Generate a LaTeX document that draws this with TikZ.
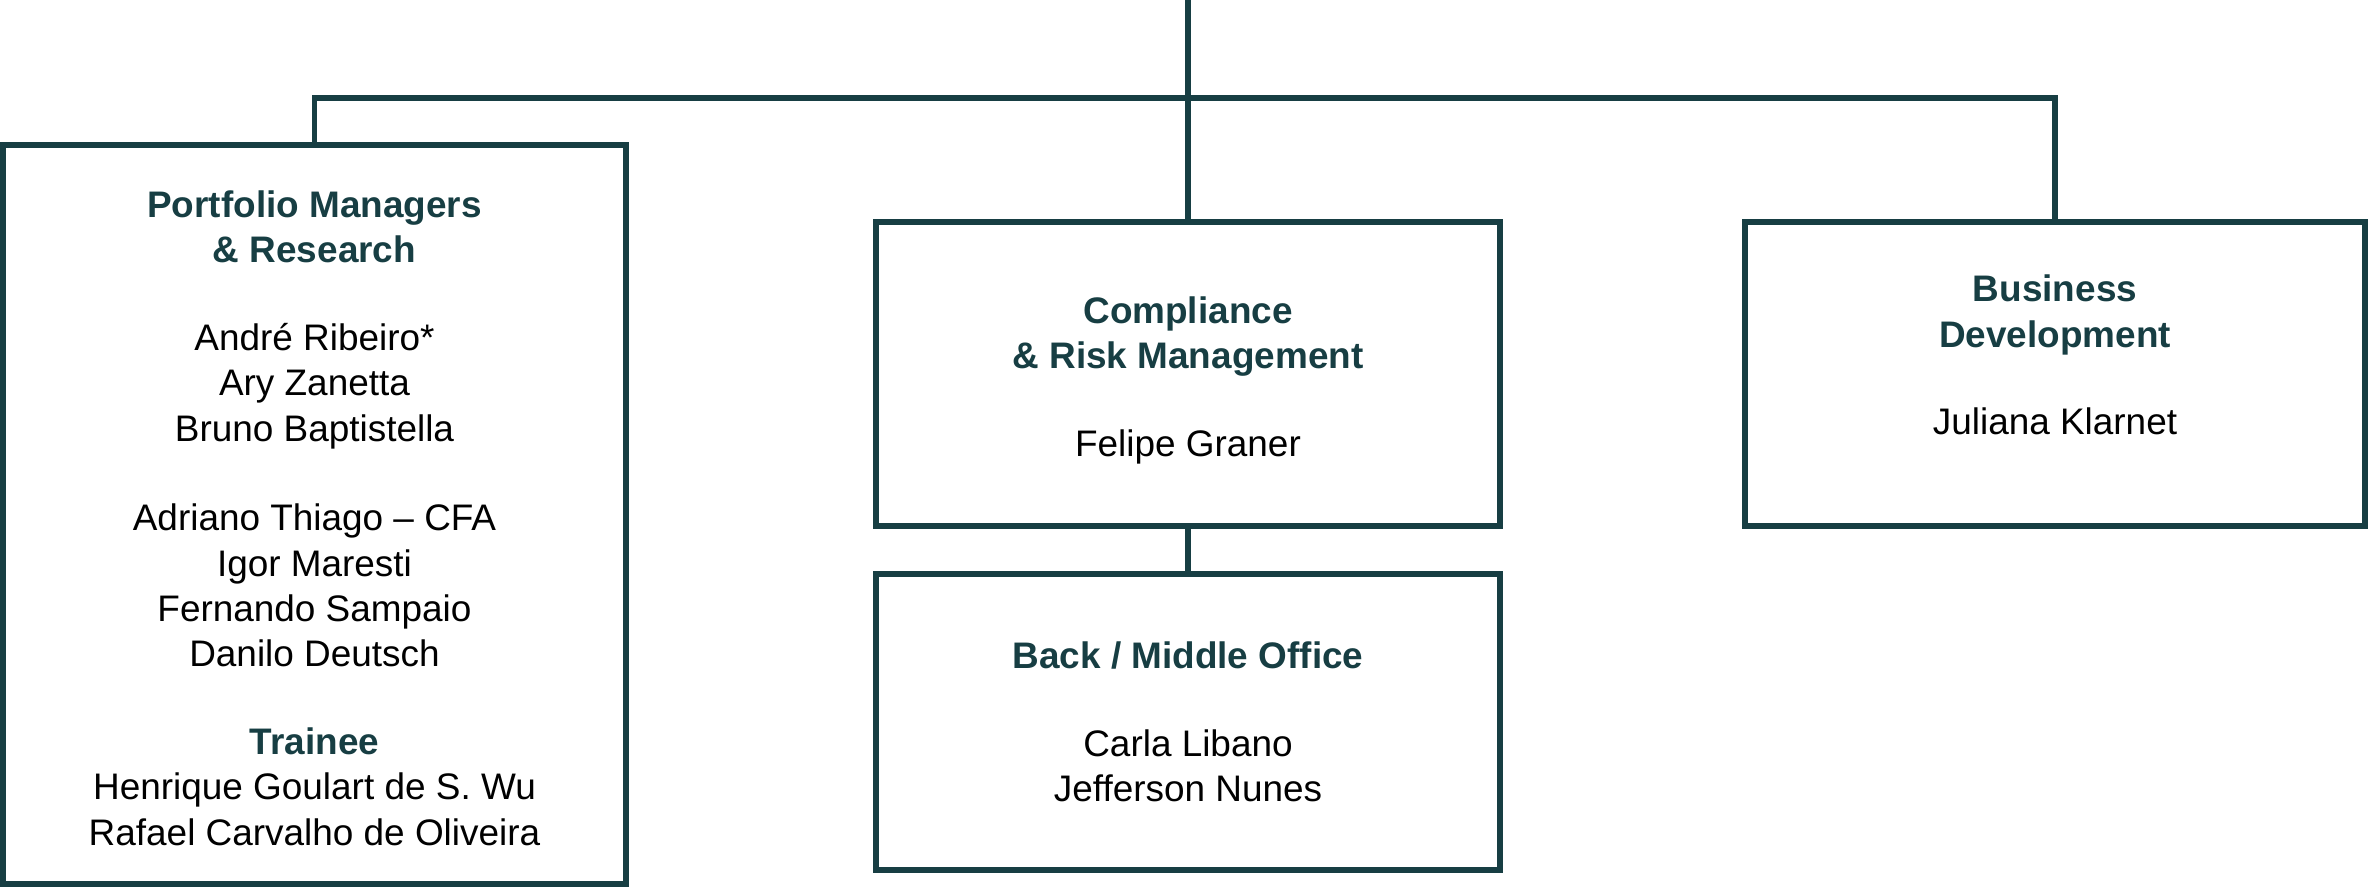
\documentclass[tikz,border=0pt]{standalone}
\usepackage{fontspec}
\setmainfont{Liberation Sans}
\definecolor{dkteal}{RGB}{23,62,67}
\begin{document}
\begin{tikzpicture}[x=0.01cm,y=-0.01cm,
  box/.style={draw=dkteal,line width=1.56pt,inner sep=0pt,align=center,
    font=\fontsize{10.5pt}{12.9pt}\selectfont},
  conn/.style={draw=dkteal,line width=1.56pt}]
\newcommand{\hdtext}[1]{\textbf{\color{dkteal}#1}}
\useasboundingbox (0,0) rectangle (2369,887);
\node[box,minimum width=6.23cm,minimum height=7.39cm] (L) at (314.5,514.5)
  {\mbox{}\\[-3.3pt]\hdtext{Portfolio Managers}\\\hdtext{\& Research}\\[12pt]
   André Ribeiro*\\Ary Zanetta\\Bruno Baptistella\\[12.6pt]
   Adriano Thiago – CFA\\Igor Maresti\\Fernando Sampaio\\Danilo Deutsch\\[12pt]
   \hdtext{Trainee}\\Henrique Goulart de S. Wu\\Rafael Carvalho de Oliveira};
\node[box,minimum width=6.24cm,minimum height=3.04cm] (C) at (1188,374)
  {\mbox{}\\[-1.7pt]\hdtext{Compliance}\\\hdtext{\& Risk Management}\\[12pt]Felipe Graner};
\node[box,minimum width=6.24cm,minimum height=2.96cm] (B) at (1188,722)
  {\hdtext{Back / Middle Office}\\[12pt]Carla Libano\\Jefferson Nunes};
\node[box,minimum width=6.20cm,minimum height=3.04cm] (D) at (2055,374)
  {\hdtext{Business}\\\hdtext{Development}\\[12pt]Juliana Klarnet\\[-2pt]\mbox{}};
\coordinate (top) at (1188,0);
\coordinate (hub) at (1188,98);
\draw[conn] (top) -- (hub);
\draw[conn] (L.north) |- (hub) -| (D.north);
\draw[conn] (hub) -- (C.north);
\draw[conn] (C.south) -- (B.north);
\end{tikzpicture}
\end{document}
